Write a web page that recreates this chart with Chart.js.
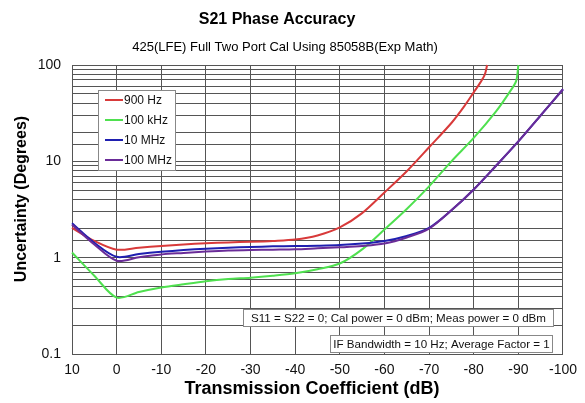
<!DOCTYPE html>
<html>
<head>
<meta charset="utf-8">
<script src="https://cdn.jsdelivr.net/npm/chart.js@4/dist/chart.umd.min.js"></script>
<style>
  html, body { margin: 0; padding: 0; background: #fff; }
  #wrap { width: 585px; height: 403px; position: relative; }
</style>
</head>
<body>
<div id="wrap"><canvas id="c"></canvas></div>
<script>
// ---- Data ----
const titleText = "S21 Phase Accuracy";
const subtitleText = "425(LFE) Full Two Port Cal Using 85058B(Exp Math)";
const xAxisTitle = "Transmission Coefficient (dB)";
const yAxisTitle = "Uncertainty (Degrees)";
const seriesLabels = ["900 Hz", "100 kHz", "10 MHz", "100 MHz"];
const seriesColors = ["#d83a3a", "#4fe04f", "#1f1fb0", "#6a2c98"];
const noteLines = [
  "S11 = S22 = 0; Cal power = 0 dBm; Meas power = 0 dBm",
  "IF Bandwidth = 10 Hz; Average Factor = 1"
];
const yTickLabels = ["0.1", "1", "10", "100"];
const xTickValues = [10, 0, -10, -20, -30, -40, -50, -60, -70, -80, -90, -100];

// 900 Hz
const x900Hz = [10, 5, 0, -5, -10, -15, -20, -25, -30, -35, -40, -45, -50, -55, -60, -65, -70, -75, -78, -80, -81.5, -82.5, -83];
const y900Hz = [2.04, 1.49, 1.21, 1.27, 1.32, 1.37, 1.41, 1.44, 1.46, 1.49, 1.54, 1.70, 2.06, 2.9, 4.75, 7.9, 14, 25, 38, 52, 66, 80, 100];
// 100 kHz
const x100kHz = [10, 5, 0, -5, -10, -15, -20, -25, -30, -35, -40, -45, -50, -55, -60, -65, -70, -75, -80, -85, -88, -89.5, -90];
const y100kHz = [1.13, 0.65, 0.385, 0.44, 0.49, 0.53, 0.57, 0.60, 0.62, 0.65, 0.69, 0.76, 0.87, 1.22, 1.96, 3.2, 5.5, 10, 17.5, 33, 52, 68, 100];
// 10 MHz
const x10MHz = [10, 5, 0, -5, -10, -15, -20, -25, -30, -35, -40, -45, -50, -55, -60, -65, -70, -75, -80, -85, -90, -95, -100];
const y10MHz = [2.28, 1.43, 1.02, 1.09, 1.15, 1.20, 1.24, 1.27, 1.29, 1.31, 1.32, 1.33, 1.35, 1.40, 1.49, 1.68, 2.04, 3.1, 5.1, 9.0, 16.1, 30, 56];
// 100 MHz
const x100MHz = [10, 5, 0, -5, -10, -15, -20, -25, -30, -35, -40, -45, -50, -55, -60, -65, -70, -75, -80, -85, -90, -95, -100];
const y100MHz = [2.2, 1.37, 0.93, 1.01, 1.08, 1.12, 1.16, 1.19, 1.20, 1.21, 1.22, 1.25, 1.28, 1.32, 1.40, 1.62, 2.0, 3.1, 5.1, 9.0, 16.1, 30, 56];

const seriesX = [x900Hz, x100kHz, x10MHz, x100MHz];
const seriesY = [y900Hz, y100kHz, y10MHz, y100MHz];
const seriesOrder = [3, 2, 1, 0];

const FONT = "'Liberation Sans', Arial, Helvetica, sans-serif";
const GRID = "#555555";

const datasets = seriesLabels.map((lab, i) => ({
  label: lab,
  data: seriesX[i].map((x, j) => ({ x: x, y: seriesY[i][j] })),
  borderColor: seriesColors[i],
  backgroundColor: seriesColors[i],
  borderWidth: 2,
  pointRadius: 0,
  tension: 0.3,
  fill: false,
  order: seriesOrder[i],
  clip: 2
}));

const overlay = {
  id: 'overlay',
  afterDraw(chart) {
    const ctx = chart.ctx;
    ctx.save();
    // titles
    ctx.fillStyle = '#000';
    ctx.textAlign = 'center';
    ctx.textBaseline = 'middle';
    ctx.font = "bold 16px " + FONT;
    ctx.fillText(titleText, 277, 20);
    ctx.font = "13px " + FONT;
    ctx.fillText(subtitleText, 285, 47);
    // y axis title
    ctx.save();
    ctx.translate(22, 199);
    ctx.rotate(-Math.PI / 2);
    ctx.font = "bold 16px " + FONT;
    ctx.fillText(yAxisTitle, 0, 0);
    ctx.restore();
    // x axis title
    ctx.font = "bold 18px " + FONT;
    ctx.fillText(xAxisTitle, 312, 389);

    // legend box
    const lx = 98, ly = 90, lw = 77, lh = 80;
    ctx.fillStyle = '#fff';
    ctx.fillRect(lx, ly, lw, lh);
    ctx.strokeStyle = '#888';
    ctx.lineWidth = 1;
    ctx.strokeRect(lx + 0.5, ly + 0.5, lw, lh);
    ctx.font = "12px " + FONT;
    ctx.textAlign = 'left';
    seriesLabels.forEach((lab, i) => {
      const yy = ly + 10 + i * 20;
      ctx.strokeStyle = seriesColors[i];
      ctx.lineWidth = 2;
      ctx.beginPath();
      ctx.moveTo(lx + 7, yy);
      ctx.lineTo(lx + 25, yy);
      ctx.stroke();
      ctx.fillStyle = '#111';
      ctx.fillText(lab, lx + 26, yy + 0.5);
    });

    // note boxes
    const boxes = [
      { x: 243, y: 309, w: 310, h: 17 },
      { x: 330, y: 335, w: 222, h: 17 }
    ];
    boxes.forEach((b, i) => {
      ctx.fillStyle = '#fff';
      ctx.fillRect(b.x, b.y, b.w, b.h);
      ctx.strokeStyle = '#888';
      ctx.lineWidth = 1;
      ctx.strokeRect(b.x + 0.5, b.y + 0.5, b.w, b.h);
      ctx.fillStyle = '#111';
      ctx.font = "11.6px " + FONT;
      ctx.textAlign = 'center';
      ctx.fillText(noteLines[i], b.x + b.w / 2 + 0.5, b.y + b.h / 2 + 1);
    });
    ctx.restore();
  }
};

new Chart(document.getElementById('c'), {
  type: 'line',
  data: { datasets: datasets },
  options: {
    responsive: true,
    maintainAspectRatio: false,
    animation: false,
    layout: { padding: { top: 65, right: 22, left: 0, bottom: 0 } },
    plugins: {
      legend: { display: false },
      tooltip: { enabled: false },
      title: { display: false }
    },
    scales: {
      x: {
        type: 'linear',
        reverse: true,
        min: -100,
        max: 10,
        afterBuildTicks(scale) {
          scale.ticks = xTickValues.map(v => ({ value: v }));
        },
        ticks: {
          color: '#111',
          font: { family: FONT, size: 14 },
          padding: 8,
          maxRotation: 0,
          autoSkip: false,
          callback: (v) => String(v)
        },
        grid: { color: GRID, lineWidth: 1, drawTicks: false },
        border: { color: GRID, width: 1 },
        afterFit(scale) { scale.height = 49; }
      },
      y: {
        type: 'logarithmic',
        min: 0.1,
        max: 100,
        ticks: {
          color: '#111',
          font: { family: FONT, size: 14 },
          padding: 11,
          autoSkip: false,
          callback: function (v) {
            const lg = Math.log10(v);
            if (Math.abs(lg - Math.round(lg)) < 1e-6) {
              return yTickLabels[Math.round(lg) + 1];
            }
            return '';
          }
        },
        grid: { color: GRID, lineWidth: 1, drawTicks: false },
        border: { color: GRID, width: 1 },
        afterFit(scale) { scale.width = 72; }
      }
    }
  },
  plugins: [overlay]
});
</script>
</body>
</html>
